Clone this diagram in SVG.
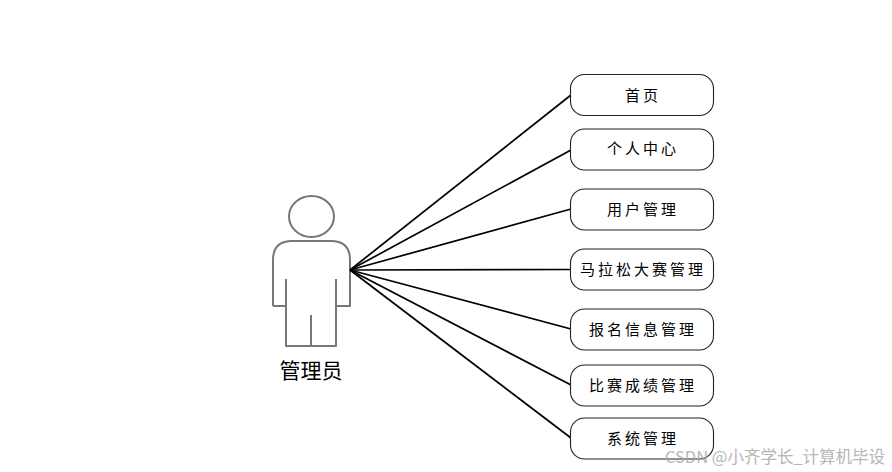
<svg xmlns="http://www.w3.org/2000/svg" width="892" height="472" viewBox="0 0 892 472">
<style>
text{font-family:"Noto Sans CJK SC","Liberation Sans",sans-serif;text-anchor:middle;fill:#000}
.n rect{fill:#fff;stroke:#222;stroke-width:1.1}
.n text{font-size:15px;letter-spacing:3px;font-weight:400}
.a{fill:none;stroke:#777;stroke-width:2;stroke-linejoin:round}
#connectors line{stroke:#000;stroke-width:1.7}
</style>
<rect width="892" height="472" fill="#fff"/>
<g id="actor">
<ellipse class="a" cx="311.500" cy="216.500" rx="22.500" ry="20.500"/>
<path class="a" d="M273 306V260Q273 241 292 241H331Q350 241 350 260V306H336V279M336 306V346H286V306H273M286 306V279M311 346V315"/>
<text x="311" y="377.500" font-size="21">管理员</text>
</g>
<g id="connectors">
<line x1="350" y1="270" x2="571" y2="95"/>
<line x1="350" y1="270" x2="571" y2="150"/>
<line x1="350" y1="270" x2="571" y2="209"/>
<line x1="350" y1="270" x2="571" y2="269.500"/>
<line x1="350" y1="270" x2="571" y2="329"/>
<line x1="350" y1="270" x2="571" y2="385"/>
<line x1="350" y1="270" x2="571" y2="438"/>
</g>
<g id="n1" class="n"><rect x="570.500" y="74.500" width="143" height="41" rx="14"/><text x="643" y="101">首页</text></g>
<g id="n2" class="n"><rect x="570.500" y="129" width="143" height="41" rx="14"/><text x="643" y="154">个人中心</text></g>
<g id="n3" class="n"><rect x="570.500" y="189" width="143" height="41" rx="14"/><text x="643" y="214.500">用户管理</text></g>
<g id="n4" class="n"><rect x="570.500" y="249" width="143" height="41" rx="14"/><text x="643" y="275">马拉松大赛管理</text></g>
<g id="n5" class="n"><rect x="570.500" y="309" width="143" height="41" rx="14"/><text x="643" y="335">报名信息管理</text></g>
<g id="n6" class="n"><rect x="570.500" y="365" width="143" height="41" rx="14"/><text x="643" y="391">比赛成绩管理</text></g>
<g id="n7" class="n"><rect x="570.500" y="418" width="143" height="41" rx="14"/><text x="643" y="444">系统管理</text></g>
<text x="775" y="463" font-size="16.500" style="fill:#aaa;opacity:.85">CSDN @小齐学长_计算机毕设</text>
</svg>
